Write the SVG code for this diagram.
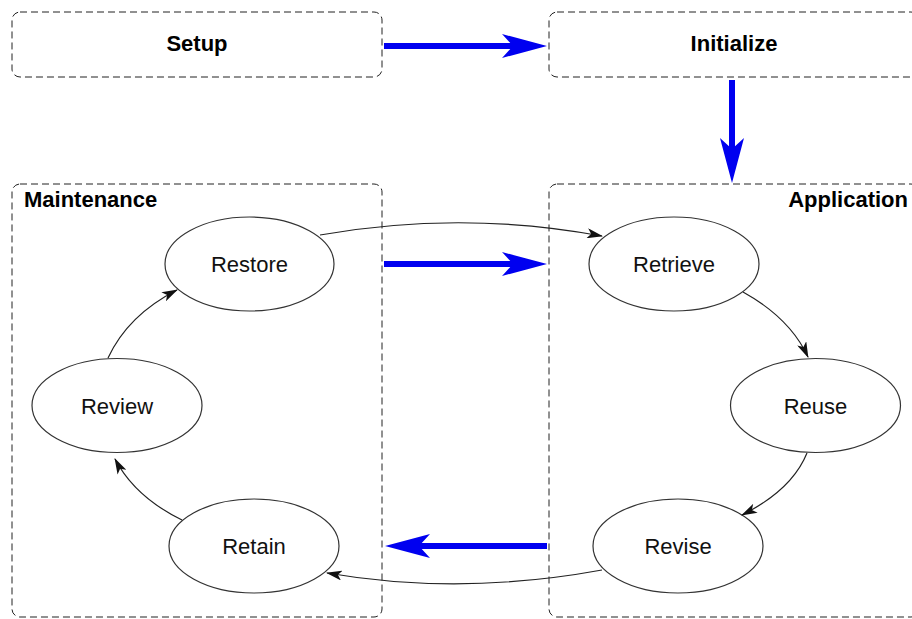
<svg xmlns="http://www.w3.org/2000/svg" width="912" height="619" viewBox="0 0 912 619">
<style>
.box{fill:none;stroke:#222;stroke-width:1;stroke-dasharray:7 4}
.node{fill:#fff;stroke:#333;stroke-width:1.2}
.lbl{font-family:"Liberation Sans",Arial,sans-serif;font-size:22px;fill:#111;text-anchor:middle}
.blbl{font-family:"Liberation Sans",Arial,sans-serif;font-size:22px;font-weight:bold;fill:#000}
.edge{fill:none;stroke:#222;stroke-width:1.2;marker-end:url(#ah)}
.flow{fill:none;stroke:#0000f0;stroke-width:6;marker-end:url(#bh)}
</style>
<defs>
<marker id="ah" viewBox="0 0 16 10" refX="15" refY="5" markerWidth="16" markerHeight="10" markerUnits="userSpaceOnUse" orient="auto">
<path d="M0,0 L16,5 L0,10 L4,5 Z" fill="#111"/>
</marker>
<marker id="bh" viewBox="0 0 45 24" refX="11" refY="12" markerWidth="45" markerHeight="24" markerUnits="userSpaceOnUse" orient="auto">
<path d="M0,0 L45,12 L0,24 L11,12 Z" fill="#0000f0"/>
</marker>
</defs>
<g id="setup">
<rect class="box" x="12" y="12" width="370" height="65" rx="8"/>
<text class="blbl" x="197" y="51" text-anchor="middle">Setup</text>
</g>
<g id="initialize">
<rect class="box" x="549" y="12" width="370" height="65" rx="8"/>
<text class="blbl" x="734" y="51" text-anchor="middle">Initialize</text>
</g>
<g id="maintenance">
<rect class="box" x="12" y="184" width="370" height="433" rx="8"/>
<text class="blbl" x="24" y="207">Maintenance</text>
</g>
<g id="application">
<rect class="box" x="549" y="184" width="370" height="433" rx="8"/>
<text class="blbl" x="908" y="207" text-anchor="end">Application</text>
</g>
<g id="restore"><ellipse class="node" cx="249.5" cy="264" rx="84.5" ry="47"/><text class="lbl" x="249.5" y="272">Restore</text></g>
<g id="review"><ellipse class="node" cx="117" cy="405.5" rx="85" ry="47"/><text class="lbl" x="117" y="413.5">Review</text></g>
<g id="retain"><ellipse class="node" cx="254" cy="546" rx="85" ry="47"/><text class="lbl" x="254" y="554">Retain</text></g>
<g id="retrieve"><ellipse class="node" cx="674" cy="264" rx="85" ry="47"/><text class="lbl" x="674" y="272">Retrieve</text></g>
<g id="reuse"><ellipse class="node" cx="815.5" cy="405.5" rx="85" ry="47"/><text class="lbl" x="815.5" y="413.5">Reuse</text></g>
<g id="revise"><ellipse class="node" cx="678" cy="546" rx="85" ry="47"/><text class="lbl" x="678" y="554">Revise</text></g>
<g id="connectors">
<path class="edge" d="M320,235 Q461,210 602,236"/>
<path class="edge" d="M743,292 Q790,318 808,357"/>
<path class="edge" d="M807,453 Q792,490 742,515"/>
<path class="edge" d="M602,570 Q460,596 327,573"/>
<path class="edge" d="M182,520 Q135,497 115,459"/>
<path class="edge" d="M108,358 Q128,315 177,290"/>
<path class="flow" d="M384,46 L513,46"/>
<path class="flow" d="M732,80 L732,149"/>
<path class="flow" d="M384,264 L513,264"/>
<path class="flow" d="M547,546 L419,546"/>
</g>
</svg>
